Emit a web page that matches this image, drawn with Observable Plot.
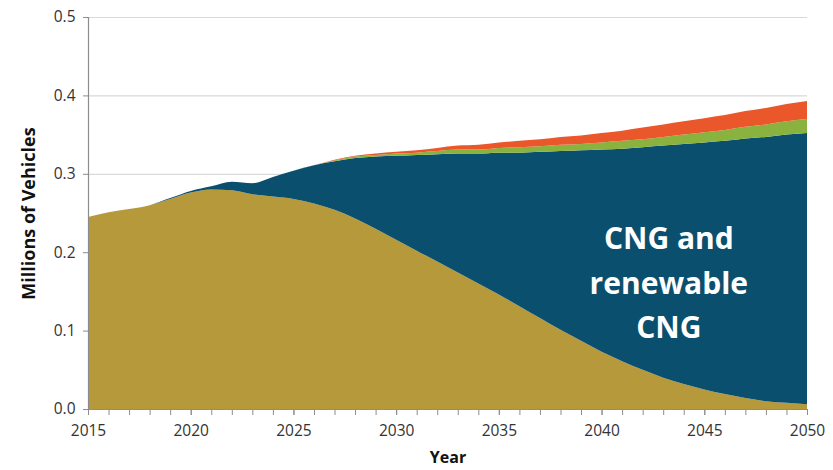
<!DOCTYPE html>
<html>
<head>
<meta charset="utf-8">
<script src="https://cdn.jsdelivr.net/npm/d3@7"></script>
<script src="https://cdn.jsdelivr.net/npm/@observablehq/plot@0.6"></script>
<style>
  html, body { margin: 0; padding: 0; background: #fff; }
  #chart { width: 833px; height: 470px; }
</style>
</head>
<body>
<div id="chart"></div>
<script>
const years = d3.range(2015, 2051);
const seriesNames = ["Diesel", "CNG and renewable CNG", "Hybrid", "Other"];
const seriesColors = ["#B5993B", "#0B4F6E", "#8AB23E", "#E9572B"];

// Bottom layer (olive)
const diesel = [0.245,0.251,0.255,0.260,0.268,0.276,0.280,0.279,0.274,0.271,
                0.268,0.262,0.254,0.243,0.230,0.216,0.202,0.188,0.174,0.160,
                0.146,0.131,0.116,0.101,0.087,0.073,0.061,0.050,0.040,0.032,
                0.025,0.019,0.014,0.010,0.008,0.006];
// Top of the blue layer (cumulative)
const cngTop = [0.245,0.251,0.255,0.260,0.269,0.278,0.284,0.290,0.288,0.296,
                0.304,0.311,0.316,0.320,0.322,0.323,0.324,0.325,0.326,0.326,
                0.327,0.327,0.328,0.329,0.330,0.331,0.332,0.334,0.336,0.338,
                0.340,0.342,0.345,0.347,0.350,0.352];
const hybrid = [0,0,0,0,0,0,0,0,0,0,
                0,0,0.001,0.002,0.002,0.003,0.003,0.004,0.005,0.005,
                0.006,0.007,0.007,0.008,0.008,0.009,0.010,0.010,0.011,0.012,
                0.013,0.014,0.015,0.016,0.017,0.018];
const other = [0,0,0,0,0,0,0,0,0,0,
               0,0,0.001,0.001,0.002,0.002,0.003,0.004,0.005,0.006,
               0.007,0.008,0.009,0.010,0.011,0.012,0.013,0.015,0.016,0.017,
               0.018,0.019,0.020,0.021,0.022,0.023];

const yTicks = [0, 0.1, 0.2, 0.3, 0.4, 0.5];
const xLabelTicks = [2015, 2020, 2025, 2030, 2035, 2040, 2045, 2050];
const annotation = "CNG and\nrenewable\nCNG";
const annotationAt = {year: 2043.25, value: 0.166};

const cng = cngTop.map((t, i) => +(t - diesel[i]).toFixed(4));
const layers = [diesel, cng, hybrid, other];
const data = [];
layers.forEach((vals, s) => years.forEach((yr, i) =>
  data.push({year: yr, value: vals[i], series: seriesNames[s]})));

const font = "'Open Sans', sans-serif";

const chart = Plot.plot({
  width: 833,
  height: 470,
  marginLeft: 88,
  marginRight: 26,
  marginTop: 17,
  marginBottom: 61,
  style: {fontFamily: font, background: "#fff", overflow: "visible"},
  x: {domain: [2015, 2050]},
  y: {domain: [0, 0.5]},
  color: {domain: seriesNames, range: seriesColors},
  marks: [
    Plot.gridY(yTicks, {stroke: "#d9d9d9", strokeOpacity: 1, strokeWidth: 1.2}),
    Plot.areaY(data, {x: "year", y: "value", fill: "series", z: "series", order: seriesNames, curve: "monotone-x"}),
    Plot.ruleX([2015], {stroke: "#8c8c8c", strokeWidth: 1.2}),
    Plot.ruleY([0], {stroke: "#8c8c8c", strokeWidth: 1.2}),
    Plot.axisY(yTicks, {tickSize: 5, tickPadding: 8, stroke: "#8c8c8c", fill: "#333",
      fontSize: 15.5, tickFormat: d3.format(".1f"), label: null}),
    Plot.axisX(years, {tickSize: 6, stroke: "#8c8c8c", tickFormat: () => "", label: null}),
    Plot.axisX(xLabelTicks, {tickSize: 6, tickPadding: 9, stroke: "#8c8c8c", fill: "#333",
      fontSize: 15.5, tickFormat: d => String(d), label: null}),
    Plot.text(["Millions of Vehicles"], {frameAnchor: "left", textAnchor: "middle", rotate: -90,
      dx: -59, dy: 0, fontSize: 18, fontWeight: "bold", fill: "#111"}),
    Plot.text(["Year"], {frameAnchor: "bottom", dy: 53, fontSize: 16, fontWeight: "bold", fill: "#111"}),
    Plot.text([annotation], {x: () => annotationAt.year, y: () => annotationAt.value,
      fontSize: 30, fontWeight: "bold", fill: "#fff", lineHeight: 1.48, textAnchor: "middle"})
  ]
});
document.getElementById("chart").appendChild(chart);
</script>
</body>
</html>
